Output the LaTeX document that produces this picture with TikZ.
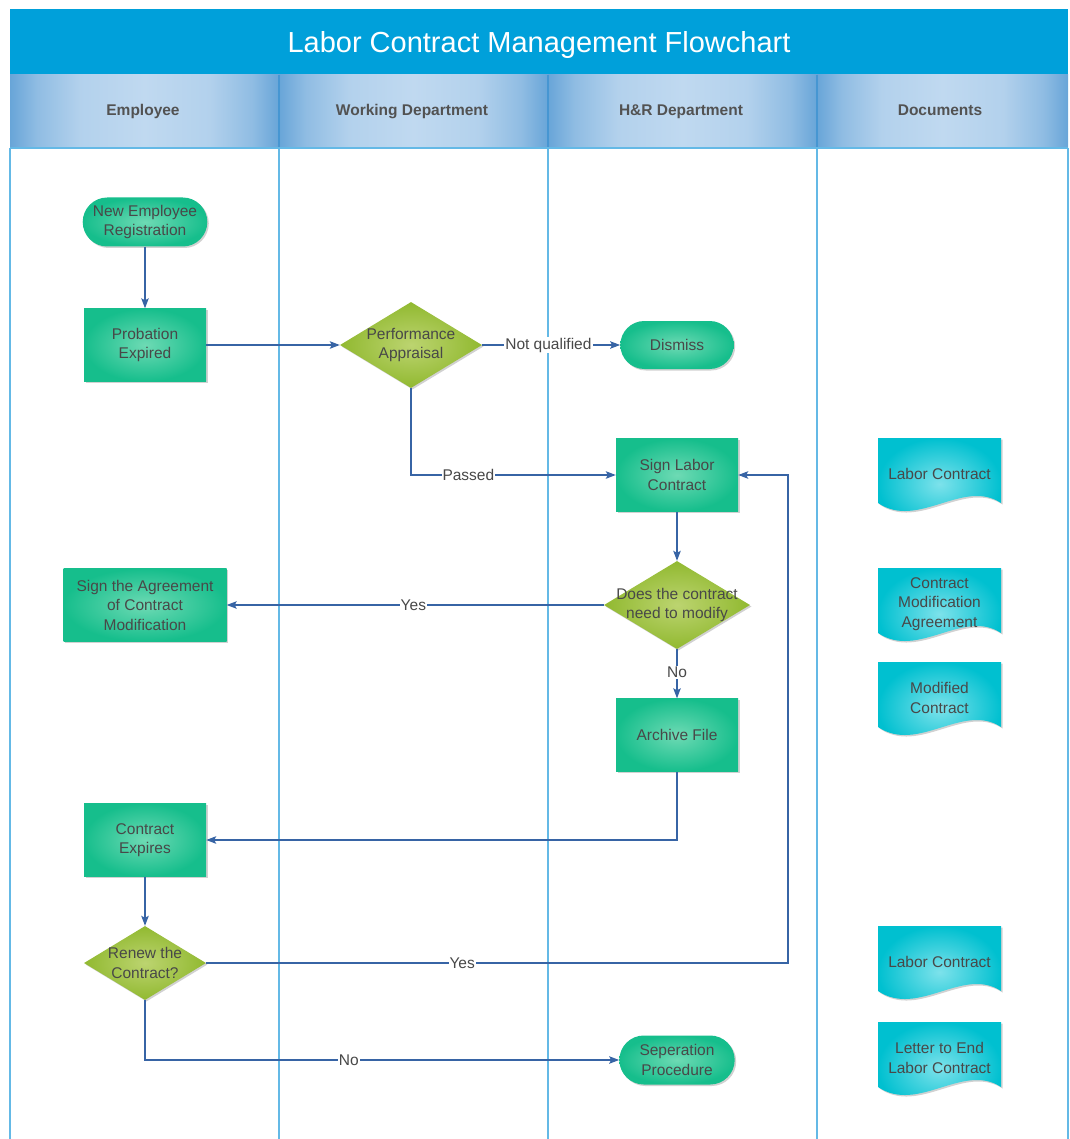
\documentclass[tikz,border=0pt]{standalone}
\usepackage{fontspec}
\setmainfont{Liberation Sans}
\usetikzlibrary{shapes.geometric,shapes.misc,arrows.meta,shadows}

\definecolor{titlebar}{RGB}{0,160,218}
\definecolor{hdin}{RGB}{192,217,240}
\definecolor{hdout}{RGB}{104,165,216}
\definecolor{hdsep}{RGB}{70,150,210}
\definecolor{laneline}{RGB}{100,185,230}
\definecolor{procin}{RGB}{110,218,180}
\definecolor{procout}{RGB}{22,190,140}
\definecolor{decin}{RGB}{188,212,112}
\definecolor{decout}{RGB}{145,185,48}
\definecolor{docin}{RGB}{125,226,235}
\definecolor{docout}{RGB}{0,192,208}
\definecolor{txt}{RGB}{72,72,72}
\definecolor{flowblue}{RGB}{55,100,165}

% lane header fill: darker at the sides, light across the middle
% (the filled box spans 25bp..75bp of the shading)
\pgfdeclarehorizontalshading{hdshade}{100bp}{color(0bp)=(hdout); color(25bp)=(hdout);
  color(30bp)=(hdout!55!hdin); color(38bp)=(hdout!15!hdin); color(50bp)=(hdin);
  color(62bp)=(hdout!15!hdin); color(70bp)=(hdout!55!hdin);
  color(75bp)=(hdout); color(100bp)=(hdout)}

\newcommand\flowfont{\fontsize{15.5}{19.5}\selectfont}

% document symbol: shaded sheet with a wavy lower edge, plus its caption
\newcommand\paperdoc[4]{%
  \shade[docshade, shift={(#2,#3)}]
    (0,0) -- (123,0) -- (123,65) .. controls (85,40) and (40,92) .. (0,65) -- cycle;
  \node[doctext] (#1) at (#2+61.5,#3+36) {#4};
}

\begin{document}
\begin{tikzpicture}[x=1pt,y=-1pt,
  softshadow/.style={drop shadow={shadow xshift=1.5pt,shadow yshift=-1.5pt,opacity=0.3,fill=black!60}},
  proc/.style={rectangle, inner color=procin, outer color=procout, minimum width=122,
    minimum height=73, align=center, text=txt, font=\flowfont, softshadow},
  term/.style={rounded rectangle, inner color=procin, outer color=procout, minimum width=122,
    minimum height=49, align=center, text=txt, font=\flowfont, softshadow},
  dec/.style={diamond, inner sep=0pt, inner color=decin, outer color=decout, softshadow},
  dectext/.style={align=center, text=txt, font=\flowfont},
  docshade/.style={inner color=docin, outer color=docout, softshadow},
  doctext/.style={align=center, text=txt, font=\flowfont},
  hdtext/.style={text=black!68, font=\fontsize{15.5}{19}\selectfont\bfseries, anchor=base},
  lane/.style={draw=laneline, line width=1.3pt},
  flow/.style={draw=flowblue, line width=1.2pt, -{Stealth[length=10pt,width=7.5pt,inset=2pt]}},
  lbl/.style={fill=white, inner sep=1pt, text=txt, font=\flowfont}
]
\useasboundingbox (0,0) rectangle (1069,1139);

% title bar
\fill[titlebar] (10,9) rectangle (1068,75);
\node[text=white, font=\fontsize{29}{34}\selectfont, anchor=base] (title) at (539,53) {Labor Contract Management Flowchart};

% lane headers
\shade[shading=hdshade] (10,75) rectangle (279,148);
\shade[shading=hdshade] (279,75) rectangle (548,148);
\shade[shading=hdshade] (548,75) rectangle (817,148);
\shade[shading=hdshade] (817,75) rectangle (1068,148);
\node[hdtext] (h1) at (143,116) {Employee};
\node[hdtext] (h2) at (412,116) {Working Department};
\node[hdtext] (h3) at (681,116) {H\&R Department};
\node[hdtext] (h4) at (940,116) {Documents};

% lane borders
\draw[draw=hdsep, line width=1.2pt] (279,75) -- (279,148) (548,75) -- (548,148) (817,75) -- (817,148);
\draw[lane] (10,148) -- (1068,148);
\foreach \lx in {10,279,548,817,1068} \draw[lane] (\lx,148) -- (\lx,1139);

% flow nodes
\node[term] (ner) at (145,222) {New Employee\\Registration};
\node[proc] (prob) at (145,345) {Probation\\Expired};
\node[dec, minimum width=142, minimum height=86,
  label={[dectext]center:Performance\\Appraisal}] (pa) at (411,345) {};
\node[term, minimum width=120, minimum height=48] (dis) at (677,345) {Dismiss};
\node[proc] (slc) at (677,475) {Sign Labor\\Contract};
\node[dec, minimum width=146, minimum height=88,
  label={[dectext]center:Does the contract\\need to modify}] (mod) at (677,605) {};
\node[proc, minimum width=163] (agr) at (145,605) {Sign the Agreement\\of Contract\\Modification};
\node[proc] (arc) at (677,735) {Archive File};
\node[proc] (ce) at (145,840) {Contract\\Expires};
\node[dec, minimum width=122, minimum height=74,
  label={[dectext]center:Renew the\\Contract?}] (ren) at (145,963) {};
\node[term] (sep) at (677,1060) {Seperation\\Procedure};
\coordinate (loopx) at (788,475);

% documents
\paperdoc{d1}{878}{438}{Labor Contract}
\paperdoc{d2}{878}{568}{Contract\\Modification\\Agreement}
\paperdoc{d3}{878}{662}{Modified\\Contract}
\paperdoc{d4}{878}{926}{Labor Contract}
\paperdoc{d5}{878}{1022}{Letter to End\\Labor Contract}

% connectors
\draw[flow] (ner.south) -- (prob.north);
\draw[flow] (prob.east) -- (pa.west);
\draw[flow] (pa.east) -- node[lbl, pos=0.48] {Not qualified} (dis.west);
\draw[flow] (pa.south) |- node[lbl, pos=0.64] {Passed} (slc.west);
\draw[flow] (slc.south) -- (mod.north);
\draw[flow] (mod.west) -- node[lbl, pos=0.505] {Yes} (agr.east);
\draw[flow] (mod.south) -- node[lbl, pos=0.47] {No} (arc.north);
\draw[flow] (arc.south) |- (ce.east);
\draw[flow] (ce.south) -- (ren.north);
\draw[flow] (ren.east) -- node[lbl, pos=0.44] {Yes} (ren.east -| loopx) |- (slc.east);
\draw[flow] (ren.south) |- node[lbl, pos=0.715] {No} (sep.west);
\end{tikzpicture}
\end{document}
